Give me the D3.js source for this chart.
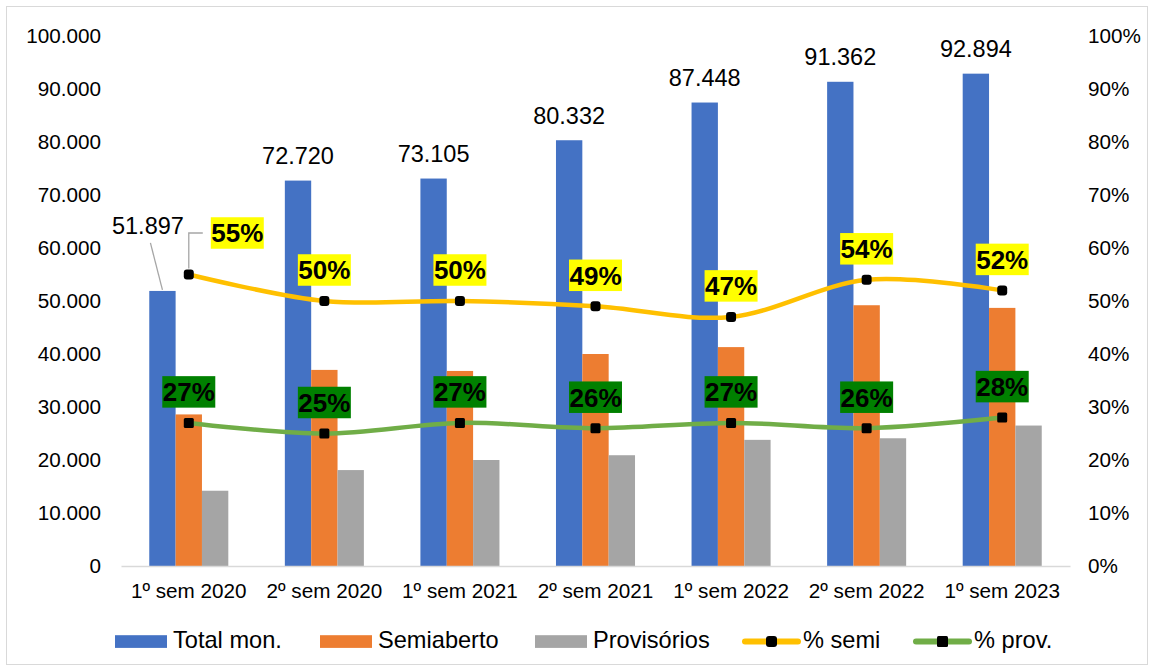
<!DOCTYPE html>
<html>
<head>
<meta charset="utf-8">
<script src="https://cdn.jsdelivr.net/npm/d3@7"></script>
<style>
  html, body { margin: 0; padding: 0; background: #ffffff; }
  svg { display: block; font-family: "Liberation Sans", Arial, sans-serif; }
</style>
</head>
<body>
<svg id="chart" width="1154" height="671"></svg>
<script>
// Semester categories and series
const categories = ["1º sem 2020", "2º sem 2020", "1º sem 2021", "2º sem 2021", "1º sem 2022", "2º sem 2022", "1º sem 2023"];
const totalMon = [51897, 72720, 73105, 80332, 87448, 91362, 92894];
const semiaberto = [28600, 37000, 36800, 40000, 41300, 49200, 48700];
const provisorios = [14200, 18100, 20000, 20900, 23800, 24100, 26500];
const pctSemi = [0.55, 0.50, 0.50, 0.49, 0.47, 0.54, 0.52];
const pctProv = [0.27, 0.25, 0.27, 0.26, 0.27, 0.26, 0.28];
const leftTicks = [0, 10000, 20000, 30000, 40000, 50000, 60000, 70000, 80000, 90000, 100000];
const rightTicks = [0, 0.1, 0.2, 0.3, 0.4, 0.5, 0.6, 0.7, 0.8, 0.9, 1.0];

const barSeries = [
  { name: "Total mon.", values: totalMon, color: "#4472C4" },
  { name: "Semiaberto", values: semiaberto, color: "#ED7D31" },
  { name: "Provisórios", values: provisorios, color: "#A5A5A5" }
];
const lineSeries = [
  { name: "% semi", values: pctSemi, color: "#FFC000", labelBg: "#FFFF00", rx: 3 },
  { name: "% prov.", values: pctProv, color: "#70AD47", labelBg: "#008000", rx: 1.5 }
];

const svg = d3.select("#chart");
const W = 1154, H = 671;
const plot = { left: 121, right: 1070, top: 36, bottom: 566 };

const ptBR = d3.formatLocale({ decimal: ",", thousands: ".", grouping: [3], currency: ["R$", ""] });
const fmtNum = ptBR.format(",.0f");
const fmtPct = d3.format(".0%");

// Outer frame
svg.append("rect")
  .attr("x", 6.5).attr("y", 6.5)
  .attr("width", W - 13).attr("height", H - 13)
  .attr("fill", "#fff").attr("stroke", "#d9d9d9").attr("stroke-width", 1);

const x = d3.scaleBand()
  .domain(categories)
  .range([plot.left, plot.right])
  .paddingInner(0.417)
  .paddingOuter(0.2085);
const xSub = d3.scaleBand()
  .domain(barSeries.map(s => s.name))
  .range([0, x.bandwidth()]);
const y = d3.scaleLinear().domain([0, 100000]).range([plot.bottom, plot.top]);
const yR = d3.scaleLinear().domain([0, 1]).range([plot.bottom, plot.top]);

// Left axis (values)
const gL = svg.append("g")
  .attr("transform", `translate(${plot.left - 11},0)`)
  .call(d3.axisLeft(y).tickValues(leftTicks).tickFormat(fmtNum).tickSize(0).tickPadding(9));
gL.select(".domain").remove();
gL.selectAll("text").attr("font-size", "20.7px").attr("fill", "#000").attr("font-family", "Liberation Sans, Arial, sans-serif");

// Right axis (percentages)
const gR = svg.append("g")
  .attr("transform", `translate(1080,0)`)
  .call(d3.axisRight(yR).tickValues(rightTicks).tickFormat(fmtPct).tickSize(0).tickPadding(8));
gR.select(".domain").remove();
gR.selectAll("text").attr("font-size", "20.7px").attr("fill", "#000").attr("font-family", "Liberation Sans, Arial, sans-serif");

// Bars
const groups = svg.append("g").selectAll("g")
  .data(categories)
  .join("g")
  .attr("transform", d => `translate(${x(d)},0)`);
barSeries.forEach(s => {
  groups.append("rect")
    .attr("x", xSub(s.name))
    .attr("width", xSub.bandwidth())
    .attr("y", (d, i) => y(s.values[i]))
    .attr("height", (d, i) => y(0) - y(s.values[i]))
    .attr("fill", s.color);
});

// Category axis
const gX = svg.append("g")
  .attr("transform", `translate(0,${plot.bottom})`)
  .call(d3.axisBottom(x).tickSize(0).tickPadding(17));
gX.select(".domain").attr("stroke", "#d9d9d9").attr("stroke-width", 1.6);
gX.selectAll("text").attr("font-size", "20.7px").attr("fill", "#000").attr("font-family", "Liberation Sans, Arial, sans-serif");

const cx = i => x(categories[i]) + x.bandwidth() / 2;

// Percentage lines
const line = d3.line().curve(d3.curveCardinal.tension(0));
lineSeries.forEach(s => {
  svg.append("path")
    .attr("d", line(s.values.map((v, i) => [cx(i), yR(v)])))
    .attr("fill", "none")
    .attr("stroke", s.color)
    .attr("stroke-width", 4.5)
    .attr("stroke-linecap", "round");
  svg.append("g").selectAll("rect")
    .data(s.values)
    .join("rect")
    .attr("x", (v, i) => cx(i) - 5)
    .attr("y", v => yR(v) - 5)
    .attr("width", 10).attr("height", 10)
    .attr("rx", s.rx)
    .attr("fill", "#000");
});

// Leader lines for the first labels
const leader = svg.append("g").attr("stroke", "#a6a6a6").attr("stroke-width", 1.3).attr("fill", "none");
{
  const bx = x(categories[0]) + xSub("Total mon.") + xSub.bandwidth() / 2;
  leader.append("line")
    .attr("x1", bx - 12).attr("y1", y(totalMon[0]) - 48)
    .attr("x2", bx).attr("y2", y(totalMon[0]) - 1);
  const px = cx(0), py = yR(pctSemi[0]);
  leader.append("path")
    .attr("d", `M${px + 14},${py - 41.5}H${px}V${py - 6}`);
}

// Total labels above the blue bars
const totLabels = svg.append("g");
totalMon.forEach((v, i) => {
  const bx = x(categories[i]) + xSub("Total mon.") + xSub.bandwidth() / 2;
  const off = i === 0 ? { dx: -14.5, dy: -57 } : { dx: 0, dy: -16.6 };
  totLabels.append("text")
    .attr("x", bx + off.dx)
    .attr("y", y(v) + off.dy)
    .attr("text-anchor", "middle")
    .attr("font-size", "23.5px")
    .attr("fill", "#000")
    .text(fmtNum(v));
});

// Percentage labels with coloured boxes
lineSeries.forEach((s, si) => {
  const g = svg.append("g");
  s.values.forEach((v, i) => {
    let bcx = cx(i), bcy = yR(v) - 31;
    if (si === 0 && i === 0) { bcx = cx(0) + 48.5; bcy = yR(v) - 41.5; }
    const bw = 53, bh = 31.5;
    g.append("rect")
      .attr("x", bcx - bw / 2).attr("y", bcy - bh / 2)
      .attr("width", bw).attr("height", bh)
      .attr("fill", s.labelBg);
    g.append("text")
      .attr("x", bcx).attr("y", bcy)
      .attr("dy", "0.36em")
      .attr("text-anchor", "middle")
      .attr("font-size", "26px")
      .attr("font-weight", "bold")
      .attr("fill", "#000")
      .text(fmtPct(v));
  });
});

// Legend
const legend = svg.append("g");
const legY = 641.5;
const barLegX = [115, 320, 535];
barSeries.forEach((s, i) => {
  legend.append("rect")
    .attr("x", barLegX[i]).attr("y", legY - 6.3)
    .attr("width", 52).attr("height", 12.7)
    .attr("fill", s.color);
  legend.append("text")
    .attr("x", barLegX[i] + 58).attr("y", legY + 6.8)
    .attr("font-size", "23.6px").attr("fill", "#000")
    .text(s.name);
});
const lineLegX = [743, 914];
lineSeries.forEach((s, i) => {
  legend.append("line")
    .attr("x1", lineLegX[i] + 2).attr("x2", lineLegX[i] + 55)
    .attr("y1", legY).attr("y2", legY)
    .attr("stroke", s.color).attr("stroke-width", 6)
    .attr("stroke-linecap", "round");
  legend.append("rect")
    .attr("x", lineLegX[i] + 28.5 - 5.5).attr("y", legY - 5.5)
    .attr("width", 11).attr("height", 11)
    .attr("rx", s.rx).attr("fill", "#000");
  legend.append("text")
    .attr("x", lineLegX[i] + 60).attr("y", legY + 6.8)
    .attr("font-size", "23.6px").attr("fill", "#000")
    .text(s.name);
});
</script>
</body>
</html>
